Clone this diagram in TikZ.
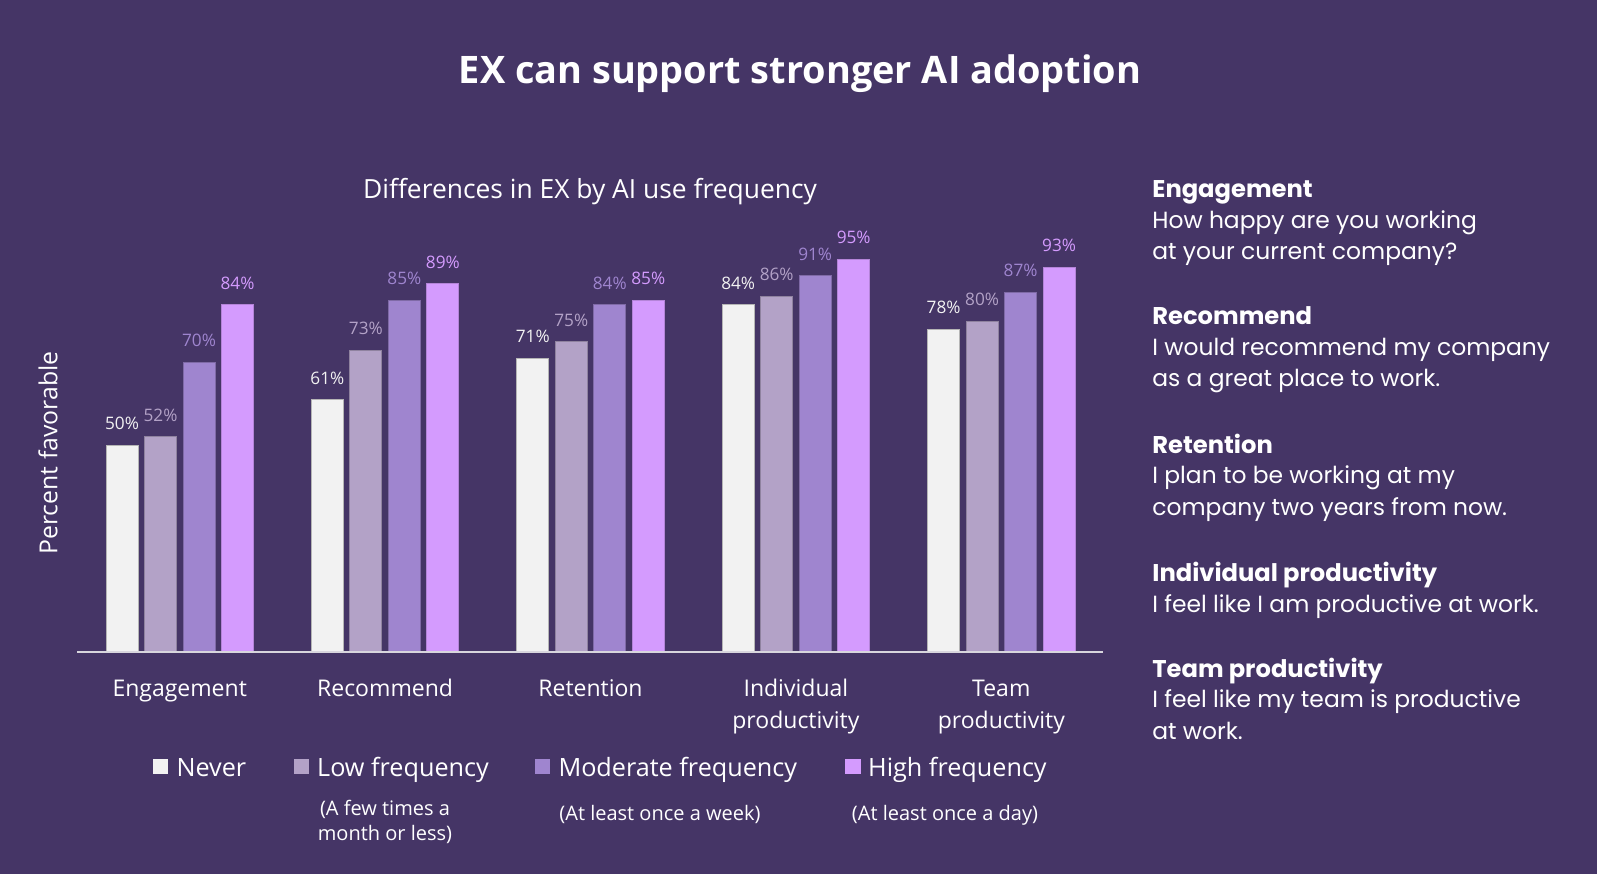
\documentclass[tikz,border=0pt]{standalone}
\usepackage{fontspec}
\setmainfont{Open Sans}
\newfontfamily\panelfont{Poppins}
\definecolor{bgc}{HTML}{453566}
\definecolor{cnever}{HTML}{F2F2F2}
\definecolor{clow}{HTML}{B3A2C7}
\definecolor{cmod}{HTML}{9F85CF}
\definecolor{chigh}{HTML}{D49BFE}
\definecolor{txt}{HTML}{FFFFFF}
\tikzset{
  valuelbl/.style={anchor=base, inner sep=0pt, font=\fontsize{8.6pt}{10pt}\selectfont},
  catlbl/.style={anchor=base, inner sep=0pt, align=center, text=txt, font=\fontsize{11.5pt}{16.3pt}\selectfont},
  leglbl/.style={anchor=base west, inner sep=0pt, text=txt, font=\fontsize{12.6pt}{15pt}\selectfont},
  legsub/.style={anchor=base, inner sep=0pt, align=center, text=txt, font=\fontsize{10pt}{12.8pt}\selectfont},
  legsq/.style={inner sep=0pt, minimum size=7.6pt},
  panelhead/.style={anchor=base west, inner sep=0pt, text=txt, font=\panelfont\bfseries\fontsize{12.1pt}{14pt}\selectfont},
  paneltext/.style={anchor=base west, inner sep=0pt, align=left, text=txt, font=\panelfont\fontsize{11.7pt}{15.8pt}\selectfont},
  barline/.style={line width=0.5pt}
}
\begin{document}
\begin{tikzpicture}[x=0.5pt,y=-0.5pt]
\fill[bgc] (0,0) rectangle (1597,874);
\useasboundingbox (0,0) rectangle (1597,874);
% title
\node[anchor=base, inner sep=0pt, text=txt, font=\bfseries\fontsize{18.95pt}{22pt}\selectfont] (title) at (800,83) {EX can support stronger AI adoption};
\node[anchor=base, inner sep=0pt, text=txt, font=\fontsize{13.2pt}{15pt}\selectfont] (subtitle) at (590,198) {Differences in EX by AI use frequency};
% y label
\node[rotate=90, inner sep=0pt, text=txt, font=\fontsize{12.4pt}{14pt}\selectfont] (ylabel) at (48,453) {Percent favorable};
% bars
\foreach \g/\a/\b/\c/\d in {0/50/52/70/84, 1/61/73/85/89, 2/71/75/84/85, 3/84/86/91/95, 4/78/80/87/93}{
  \foreach \s/\v/\col/\edge in {0/\a/cnever/cnever!75!black, 1/\b/clow/clow!80!black, 2/\c/cmod/cmod!80!black, 3/\d/chigh/chigh!85!black}{
    \pgfmathsetmacro{\xl}{106+205.4*\g+38.5*\s}
    \pgfmathsetmacro{\xr}{\xl+32}
    \pgfmathsetmacro{\yt}{651.7-4.133*\v}
    \pgfmathsetmacro{\xc}{\xl+16}
    \pgfmathsetmacro{\yl}{\yt-15.5}
    \filldraw[fill=\col, draw=\edge, barline] (\xl,651.7) rectangle (\xr,\yt);
    \node[valuelbl, text=\col] (v\g\s) at (\xc,\yl) {\v\%};
  }
}
% axis
\draw[line width=1.2pt, draw=cnever!85!bgc] (77,651.7) coordinate (axl) -- (1103,651.7) coordinate (axr);
% categories
\node[catlbl] (cat0) at (179.7,696) {Engagement};
\node[catlbl] (cat1) at (385.1,696) {Recommend};
\node[catlbl] (cat2) at (590.5,696) {Retention};
\node[catlbl] (cat3) at (795.9,728.6) {Individual\\productivity};
\node[catlbl] (cat4) at (1001.3,728.6) {Team\\productivity};
% legend
\node[legsq, fill=cnever] (sq0) at (160.4,766.4) {};
\node[leglbl] (lg0) at (176.2,776.5) {Never};
\node[legsq, fill=clow] (sq1) at (301.5,766.4) {};
\node[leglbl] (lg1) at (316.8,776.5) {Low frequency};
\node[legsq, fill=cmod] (sq2) at (542.4,766.4) {};
\node[leglbl] (lg2) at (558.1,776.5) {Moderate frequency};
\node[legsq, fill=chigh] (sq3) at (853,766.4) {};
\node[leglbl] (lg3) at (867.8,776.5) {High frequency};
\node[legsub] (sub1) at (385,840.6) {(A few times a\\month or less)};
\node[legsub] (sub2) at (660,820) {(At least once a week)};
\node[legsub] (sub3) at (945,820) {(At least once a day)};
% right panel
\node[panelhead] (h0) at (1152,197) {Engagement};
\node[paneltext] (t0) at (1152,259.6) {How happy are you working\\at your current company?};
\node[panelhead] (h1) at (1152,324.5) {Recommend};
\node[paneltext] (t1) at (1152,386.6) {I would recommend my company\\as a great place to work.};
\node[panelhead] (h2) at (1152,453) {Retention};
\node[paneltext] (t2) at (1152,515.1) {I plan to be working at my\\company two years from now.};
\node[panelhead] (h3) at (1152,581) {Individual productivity};
\node[paneltext] (t3) at (1152,612) {I feel like I am productive at work.};
\node[panelhead] (h4) at (1152,677) {Team productivity};
\node[paneltext] (t4) at (1152,739.1) {I feel like my team is productive\\at work.};
\end{tikzpicture}
\end{document}
